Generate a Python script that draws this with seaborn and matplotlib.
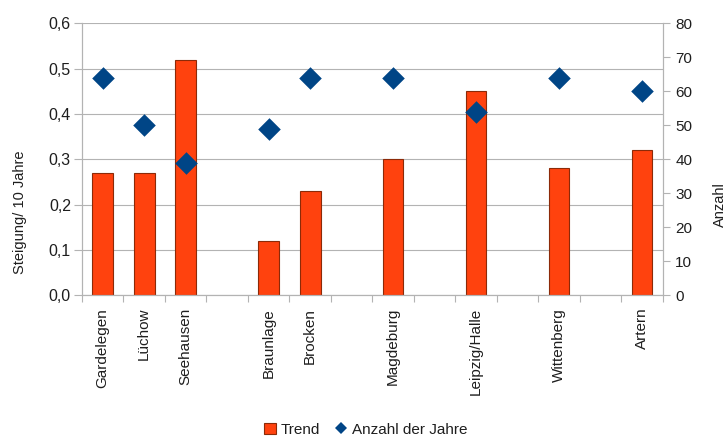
import matplotlib
matplotlib.use("Agg")
import matplotlib.pyplot as plt
from matplotlib.patches import Patch
from matplotlib.lines import Line2D
from matplotlib.ticker import FixedLocator
import seaborn as sns
import pandas as pd

# Stations (blank slots keep the grouping gaps between regions)
stations = ["Gardelegen", "Lüchow", "Seehausen", "Braunlage", "Brocken",
            "Magdeburg", "Leipzig/Halle", "Wittenberg", "Artern"]
slot_order = ["Gardelegen", "Lüchow", "Seehausen", " ", "Braunlage", "Brocken",
              "  ", "Magdeburg", "   ", "Leipzig/Halle", "    ", "Wittenberg",
              "     ", "Artern"]
trend = [0.27, 0.27, 0.52, 0.12, 0.23, 0.30, 0.45, 0.28, 0.32]
years = [64, 50, 39, 49, 64, 64, 54, 64, 60]

left_ticks = [0.0, 0.1, 0.2, 0.3, 0.4, 0.5, 0.6]
left_labels = ["0,0", "0,1", "0,2", "0,3", "0,4", "0,5", "0,6"]
right_ticks = [0, 10, 20, 30, 40, 50, 60, 70, 80]

BAR = "#FF420E"
BAR_EDGE = "#8c2a08"
DIAMOND = "#004586"
GRID = "#b3b3b3"
TEXT = "#1e1e1e"

df = pd.DataFrame({"Station": stations, "Trend": trend, "Jahre": years})

sns.set_theme(style="white")
plt.rcParams["font.family"] = ["Liberation Sans", "DejaVu Sans"]

fig = plt.figure(figsize=(7.27, 4.45), dpi=100)
ax = fig.add_axes([0.1128, 0.3364, 0.7988, 0.6112])

sns.barplot(data=df, x="Station", y="Trend", order=slot_order, color=BAR,
            saturation=1, width=0.5, edgecolor=BAR_EDGE, linewidth=0.8,
            ax=ax, zorder=2)
ax.set_ylim(0, 0.6)
ax.set_yticks(left_ticks)
ax.set_yticklabels(left_labels)
ax.yaxis.grid(True, color=GRID, linewidth=0.8, zorder=0)
ax.set_axisbelow(True)

ax2 = ax.twinx()
sns.stripplot(data=df, x="Station", y="Jahre", order=slot_order, jitter=False,
              marker="D", size=11.5, color=DIAMOND, linewidth=0, ax=ax2, zorder=3)
ax2.set_ylim(0, 80)
ax2.set_yticks(right_ticks)
ax2.grid(False)

ax.set_xlim(-0.5, len(slot_order) - 0.5)

# Category labels centred, tick marks on the slot boundaries
ax.tick_params(axis="x", which="major", length=0, pad=9, labelsize=11,
               labelcolor=TEXT, rotation=90)
ax.xaxis.set_minor_locator(FixedLocator([i - 0.5 for i in range(len(slot_order) + 1)]))
ax.tick_params(axis="x", which="minor", length=5, width=0.8, color=GRID,
               direction="out", bottom=True)
for lbl in ax.get_xticklabels():
    lbl.set_va("top")
    lbl.set_ha("center")

ax.tick_params(axis="y", length=6, width=0.8, color=GRID, direction="out",
               labelsize=11.5, labelcolor=TEXT, left=True, pad=2)
ax2.tick_params(axis="y", length=5, width=0.8, color=GRID, direction="out",
                labelsize=11, labelcolor=TEXT, right=True, pad=4)

for a in (ax, ax2):
    for side in ("left", "right", "bottom"):
        a.spines[side].set_color(GRID)
        a.spines[side].set_linewidth(0.8)
    a.spines["top"].set_visible(False)

ax.set_xlabel("")
ax.set_ylabel("Steigung/ 10 Jahre", fontsize=10.5, color=TEXT)
ax.yaxis.set_label_coords(-0.095, 0.305)
ax2.set_ylabel("Anzahl", fontsize=10.5, color=TEXT)
ax2.yaxis.set_label_coords(1.086, 0.335)

handles = [
    Patch(facecolor=BAR, edgecolor=BAR_EDGE, linewidth=0.8),
    Line2D([], [], marker="D", linestyle="none", markersize=6.5,
           markerfacecolor=DIAMOND, markeredgewidth=0),
]
fig.legend(handles, ["Trend", "Anzahl der Jahre"], loc="center",
           bbox_to_anchor=(0.503, 0.034), ncol=2, frameon=False,
           fontsize=11, handlelength=0.8, handleheight=0.8,
           handletextpad=0.3, columnspacing=1.0, labelcolor=TEXT)

fig.savefig("out.png", dpi=100)
